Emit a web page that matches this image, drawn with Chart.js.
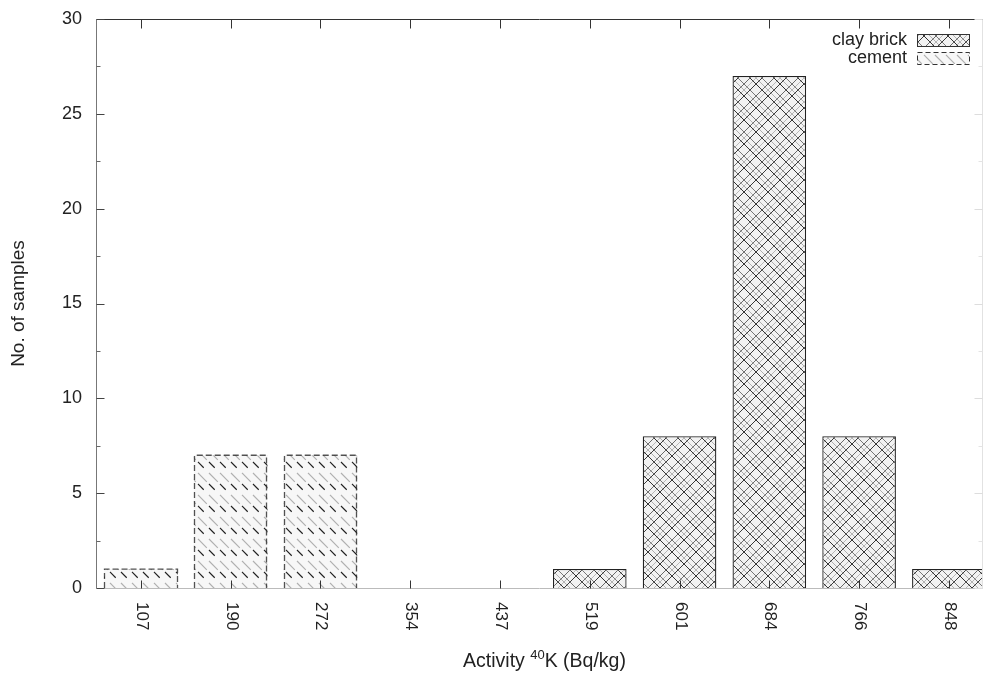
<!DOCTYPE html>
<html>
<head>
<meta charset="utf-8">
<title>Activity 40K histogram</title>
<script src="https://cdn.jsdelivr.net/npm/chart.js@4.4.1/dist/chart.umd.min.js"></script>
<style>
  html, body { margin: 0; padding: 0; background: #fff; }
  #wrap { width: 987px; height: 675px; }
</style>
</head>
<body>
<div id="wrap"><canvas id="myChart"></canvas></div>
<script>
// data
var categories = ['107', '190', '272', '354', '437', '519', '601', '684', '766', '848'];
var clayBrick = [0, 0, 0, 0, 0, 1, 8, 27, 8, 1];
var cement = [1, 7, 7, 0, 0, 0, 0, 0, 0, 0];
var yTicks = [0, 5, 10, 15, 20, 25, 30];
var seriesNames = ['clay brick', 'cement'];
var xTitle = ['Activity ', '40', 'K (Bq/kg)'];
var yTitle = 'No. of samples';

var FONT = "'Liberation Sans', Arial, Helvetica, sans-serif";
Chart.defaults.font.family = FONT;
Chart.defaults.color = '#222';

// gnuplot-like fill patterns
function crossPattern() {
  var s = 24;
  var c = document.createElement('canvas'); c.width = s; c.height = s;
  var g = c.getContext('2d');
  g.fillStyle = '#f2f2f2'; g.fillRect(0, 0, s, s);
  g.lineWidth = 1;
  // [offset, colour, direction]
  var lines = [[6, '#b0b0b0', 1], [18, '#b8b8b8', -1], [12, '#777', 1], [12, '#6a6a6a', -1],
               [0, '#333', 1], [0, '#3a3a3a', -1]];
  lines.forEach(function (l) {
    g.strokeStyle = l[1];
    g.beginPath();
    for (var k = -1; k <= 1; k++) {
      var o = l[0] + k * s;
      if (l[2] > 0) { g.moveTo(o - 2, -2); g.lineTo(o + s + 2, s + 2); }
      else { g.moveTo(o + s + 2, -2); g.lineTo(o - 2, s + 2); }
    }
    g.stroke();
  });
  return g.createPattern(c, 'repeat');
}

function dashPattern() {
  var s = 22, P = s * Math.SQRT2;
  var c = document.createElement('canvas'); c.width = s; c.height = s;
  var g = c.getContext('2d');
  g.fillStyle = '#f7f7f7'; g.fillRect(0, 0, s, s);
  g.lineWidth = 1.2;
  var passes = [['#b0b0b0', [P * 0.4, P * 0.6], -P * 0.5], ['#222', [P * 0.26, P * 0.74], 0]];
  passes.forEach(function (p) {
    g.strokeStyle = p[0];
    g.setLineDash(p[1]);
    g.lineDashOffset = p[2];
    for (var cc = -22; cc <= 33; cc += 11) {
      g.beginPath();
      g.moveTo(cc - s, -s);
      g.lineTo(cc + 2 * s, 2 * s);
      g.stroke();
    }
  });
  return g.createPattern(c, 'repeat');
}

var clayPat = crossPattern();
var cementPat = dashPattern();

function toPoints(arr) {
  return arr.map(function (v, i) { return { x: i, y: v ? v : null }; });
}

// frame, inward ticks, rotated x labels, x title and key, gnuplot style
var gnuplotLook = {
  id: 'gnuplotLook',
  afterDatasetsDraw: function (chart) {
    var ctx = chart.ctx, a = chart.chartArea;
    var xs = chart.scales.x, ys = chart.scales.y;

    // dashed outline of cement bars
    var meta = chart.getDatasetMeta(1);
    ctx.save();
    ctx.beginPath(); ctx.rect(a.left, a.top, a.right - a.left, a.bottom - a.top); ctx.clip();
    ctx.strokeStyle = 'rgba(40,40,40,0.8)';
    ctx.lineWidth = 1.3;
    ctx.setLineDash([6, 3]);
    meta.data.forEach(function (el, i) {
      if (!cement[i]) return;
      var p = el.getProps(['x', 'y', 'base', 'width'], true);
      var l = Math.round(p.x - p.width / 2) + 0.5, r = Math.round(p.x + p.width / 2) - 0.5;
      ctx.beginPath();
      ctx.moveTo(l, p.base); ctx.lineTo(l, p.y); ctx.lineTo(r, p.y); ctx.lineTo(r, p.base);
      ctx.stroke();
    });
    ctx.restore();

    ctx.save();
    ctx.lineWidth = 1;
    function seg(x1, y1, x2, y2, col) {
      ctx.strokeStyle = col;
      ctx.beginPath(); ctx.moveTo(x1, y1); ctx.lineTo(x2, y2); ctx.stroke();
    }
    var L = Math.round(a.left) + 0.5, R = Math.round(a.right) - 0.5;
    var T = Math.round(a.top) + 0.5, B = Math.round(a.bottom) + 0.5;
    // border
    seg(L, T, R, T, '#333');
    seg(L, T, L, B, '#777');
    seg(L, B, R, B, '#bbb');
    seg(R, T, R, B, '#e2e2e2');

    // y ticks (major + minor), mirrored faintly on the right
    yTicks.forEach(function (v, k) {
      var y = Math.round(ys.getPixelForValue(v)) + 0.5;
      seg(L, y, L + 8, y, '#444');
      seg(R, y, R - 8, y, '#ddd');
      if (k < yTicks.length - 1) {
        var ym = Math.round(ys.getPixelForValue(v + (yTicks[1] - yTicks[0]) / 2)) + 0.5;
        seg(L, ym, L + 4, ym, '#666');
        seg(R, ym, R - 4, ym, '#e4e4e4');
      }
    });

    // x ticks bottom and top, labels rotated
    ctx.font = '17px ' + FONT;
    ctx.fillStyle = '#222';
    categories.forEach(function (lab, i) {
      var x = Math.round(xs.getPixelForValue(i)) + 0.5;
      seg(x, B, x, B - 8, '#333');
      seg(x, T, x, T + 9, '#333');
      ctx.save();
      ctx.translate(x, a.bottom + 14);
      ctx.rotate(Math.PI / 2);
      ctx.textAlign = 'left';
      ctx.textBaseline = 'middle';
      ctx.fillText(lab, 0, 0);
      ctx.restore();
    });

    // x title with superscript
    var big = '19.5px ' + FONT, small = '13px ' + FONT;
    ctx.font = big; var w1 = ctx.measureText(xTitle[0]).width;
    ctx.font = small; var w2 = ctx.measureText(xTitle[1]).width;
    ctx.font = big; var w3 = ctx.measureText(xTitle[2]).width;
    var cx = (a.left + a.right) / 2 + 5, ty = 662;
    var x0 = cx - (w1 + w2 + w3) / 2;
    ctx.textAlign = 'left';
    ctx.textBaseline = 'middle';
    ctx.font = big; ctx.fillText(xTitle[0], x0, ty);
    ctx.font = small; ctx.fillText(xTitle[1], x0 + w1, ty - 7);
    ctx.font = big; ctx.fillText(xTitle[2], x0 + w1 + w2, ty);

    // key, top right inside the plot
    ctx.font = '18px ' + FONT;
    ctx.textAlign = 'right';
    var pats = [clayPat, cementPat];
    chart.data.datasets.forEach(function (ds, k) {
      var yy = a.top + 21 + k * 18;
      var bx = a.right - 66, bw = 52, bh = 12;
      ctx.fillStyle = '#222';
      ctx.fillText(ds.label, bx - 10, yy);
      ctx.fillStyle = pats[k];
      ctx.fillRect(bx, yy - bh / 2, bw, bh);
      ctx.strokeStyle = '#333';
      if (k === 1) ctx.setLineDash([5, 3]); else ctx.setLineDash([]);
      ctx.strokeRect(Math.round(bx) + 0.5, Math.round(yy - bh / 2) + 0.5, bw, bh);
    });
    ctx.setLineDash([]);
    ctx.restore();
  }
};

var ctx = document.getElementById('myChart');
var myChart = new Chart(ctx, {
  type: 'bar',
  data: {
    datasets: [{
      label: seriesNames[0],
      data: toPoints(clayBrick),
      backgroundColor: clayPat,
      borderColor: '#222',
      borderWidth: 1.3,
      barPercentage: 0.82,
      categoryPercentage: 1
    }, {
      label: seriesNames[1],
      data: toPoints(cement),
      backgroundColor: cementPat,
      borderWidth: 0,
      barPercentage: 0.82,
      categoryPercentage: 1
    }]
  },
  options: {
    responsive: true,
    maintainAspectRatio: false,
    animation: false,
    layout: { padding: { left: 0, top: 19, right: 4, bottom: 0 } },
    plugins: { legend: { display: false }, tooltip: { enabled: false } },
    scales: {
      x: {
        type: 'linear',
        stacked: true,
        offset: false,
        min: -0.5,
        max: 9.38,
        ticks: { display: false, stepSize: 1, includeBounds: false },
        grid: { display: false, drawTicks: false, offset: false },
        border: { display: false },
        afterFit: function (s) { s.height = 87; }
      },
      y: {
        stacked: true,
        min: 0,
        max: 30,
        ticks: { stepSize: 5, padding: 14, font: { size: 18 }, color: '#222' },
        grid: { display: false, drawTicks: false },
        border: { display: false },
        title: { display: true, text: yTitle, font: { size: 19 }, color: '#222', padding: { top: 7, bottom: 0 } },
        afterFit: function (s) { s.width = 96; s.paddingTop = 0; s.paddingBottom = 0; }
      }
    }
  },
  plugins: [gnuplotLook]
});
</script>
</body>
</html>
